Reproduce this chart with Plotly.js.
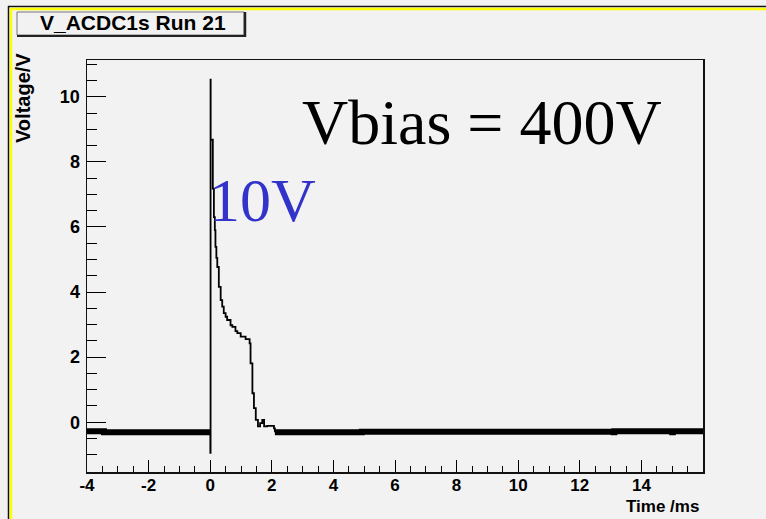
<!DOCTYPE html>
<html>
<head>
<meta charset="utf-8">
<script src="https://cdn.plot.ly/plotly-3.0.1.min.js"></script>
<style>
html, body { margin: 0; padding: 0; background: #f2f2f2; }
#chart { width: 766px; height: 519px; }
</style>
</head>
<body>
<div id="chart"></div>
<script>
// ---- data ----
const chartTitle = "V_ACDC1s Run 21";
const xTitle = "Time /ms";
const yTitle = "Voltage/V";
const noteBias = "Vbias = 400V";
const noteAmp = "10V";

// tick labels shown on the axes
const xTickVals = [-4, -2, 0, 2, 4, 6, 8, 10, 12, 14];
const xTickText = ["-4", "-2", "0", "2", "4", "6", "8", "10", "12", "14"];
const yTickVals = [0, 2, 4, 6, 8, 10];
const yTickText = ["0", "2", "4", "6", "8", "10"];

// fast pulse after the trigger (time in ms, voltage in V)
const pulseTime = [0.0, 0.005, 0.012, 0.015, 0.085, 0.12, 0.15, 0.17, 0.2, 0.23, 0.28, 0.34, 0.39, 0.44, 0.5, 0.55, 0.66, 0.72, 0.82, 0.88, 0.99, 1.15, 1.2, 1.28, 1.31, 1.37, 1.42, 1.48, 1.55, 1.62, 1.69, 1.75, 1.85, 2.07, 2.1];
const pulseVolt = [-0.31, -0.94, 10.53, 8.68, 7.18, 6.3, 5.9, 5.39, 5.05, 4.77, 4.16, 3.75, 3.55, 3.35, 3.24, 3.14, 2.98, 2.93, 2.8, 2.74, 2.63, 2.55, 2.55, 2.42, 1.81, 0.89, 0.43, 0.07, -0.13, -0.03, 0.07, -0.13, -0.11, -0.19, -0.31];

// noisy baseline before and after the pulse
const preTime = [-4.0, -3.45, 0.0];
const preVolt = [-0.28, -0.31, -0.31];
const postTime = [2.1, 4.9, 4.92, 13.1, 13.12, 15.0, 15.02, 16.0];
const postVolt = [-0.31, -0.31, -0.29, -0.31, -0.28, -0.31, -0.28, -0.31];

const xRange = [-4, 16];
const yRange = [-1.53, 11.13];

// ---- layout helpers (pixel -> paper) ----
const W = 766, H = 519, L = 87, R = 63, T = 60, B = 47;
const PW = W - L - R, PH = H - T - B;
const px = v => (v - L) / PW;
const py = v => (H - B - v) / PH;

const bg = "#f2f2f2";
const sans = "Liberation Sans, Arial, sans-serif";

const traces = [
  {x: preTime, y: preVolt, type: "scatter", mode: "lines",
   line: {color: "#000", width: 6, shape: "hv"}, hoverinfo: "skip", showlegend: false},
  {x: postTime, y: postVolt, type: "scatter", mode: "lines",
   line: {color: "#000", width: 6, shape: "hv"}, hoverinfo: "skip", showlegend: false},
  {x: pulseTime, y: pulseVolt, type: "scatter", mode: "lines",
   line: {color: "#000", width: 1.8, shape: "hv"}, hoverinfo: "skip", showlegend: false}
];

const layout = {
  width: W, height: H,
  margin: {l: L, r: R, t: T, b: B, pad: 0},
  paper_bgcolor: bg, plot_bgcolor: bg,
  showlegend: false,
  xaxis: {
    range: xRange, tickmode: "array", tickvals: xTickVals, ticktext: xTickText,
    zeroline: false, showgrid: false,
    showline: true, linecolor: "#111", linewidth: 1.5, mirror: true,
    ticks: "inside", ticklen: 12, tickwidth: 1, tickcolor: "#000",
    minor: {dtick: 0.5, tick0: 0, ticks: "inside", ticklen: 6, tickwidth: 1, tickcolor: "#000", showgrid: false},
    tickfont: {family: sans, size: 17, color: "#000", weight: "bold"}, ticklabelstandoff: -3
  },
  yaxis: {
    range: yRange, tickmode: "array", tickvals: yTickVals, ticktext: yTickText,
    zeroline: false, showgrid: false,
    showline: true, linecolor: "#111", linewidth: 1.5, mirror: true,
    ticks: "inside", ticklen: 19, tickwidth: 1, tickcolor: "#000",
    minor: {dtick: 0.5, tick0: 0, ticks: "inside", ticklen: 10, tickwidth: 1, tickcolor: "#000", showgrid: false},
    tickfont: {family: sans, size: 18, color: "#000", weight: "bold"}, ticklabelstandoff: 2
  },
  shapes: [
    // canvas border (black then yellow)
    {type: "line", xref: "paper", yref: "paper", x0: px(8), x1: px(780), y0: py(6.5), y1: py(6.5), line: {color: "#111", width: 1.5}},
    {type: "line", xref: "paper", yref: "paper", x0: px(10), x1: px(780), y0: py(9), y1: py(9), line: {color: "#ffff00", width: 2.5}},
    {type: "line", xref: "paper", yref: "paper", x0: px(8.5), x1: px(8.5), y0: py(6), y1: py(530), line: {color: "#111", width: 1.5}},
    {type: "line", xref: "paper", yref: "paper", x0: px(11), x1: px(11), y0: py(8), y1: py(530), line: {color: "#ffff00", width: 2.5}},
    // title box with shadow
    {type: "rect", xref: "paper", yref: "paper", x0: px(17), x1: px(244), y0: py(35), y1: py(12), fillcolor: bg, line: {color: "#777", width: 1}},
    {type: "line", xref: "paper", yref: "paper", x0: px(245), x1: px(245), y0: py(37), y1: py(12), line: {color: "#222", width: 2.5}},
    {type: "line", xref: "paper", yref: "paper", x0: px(17), x1: px(246), y0: py(36), y1: py(36), line: {color: "#222", width: 2}}
  ],
  annotations: [
    {text: chartTitle, xref: "paper", yref: "paper", x: px(133), y: py(23), xanchor: "center", yanchor: "middle",
     showarrow: false, font: {family: sans, size: 21, color: "#000", weight: "bold"}},
    {text: yTitle, xref: "paper", yref: "paper", x: px(23), y: py(98), xanchor: "center", yanchor: "middle", textangle: -90,
     showarrow: false, font: {family: sans, size: 20, color: "#000", weight: "bold"}},
    {text: xTitle, xref: "paper", yref: "paper", x: px(701), y: py(506), xanchor: "right", yanchor: "middle",
     showarrow: false, font: {family: sans, size: 17, color: "#000", weight: "bold"}},
    {text: noteBias, xref: "x", yref: "y", x: 8.84, y: 9.21, xanchor: "center", yanchor: "middle",
     showarrow: false, font: {family: "Liberation Serif, Times New Roman, serif", size: 64, color: "#000"}},
    {text: noteAmp, xref: "x", yref: "y", x: -0.12, y: 6.83, xanchor: "left", yanchor: "middle",
     showarrow: false, font: {family: "Liberation Serif, Times New Roman, serif", size: 62, color: "#3333cc"}}
  ]
};

Plotly.newPlot("chart", traces, layout, {displayModeBar: false, staticPlot: true});
</script>
</body>
</html>
